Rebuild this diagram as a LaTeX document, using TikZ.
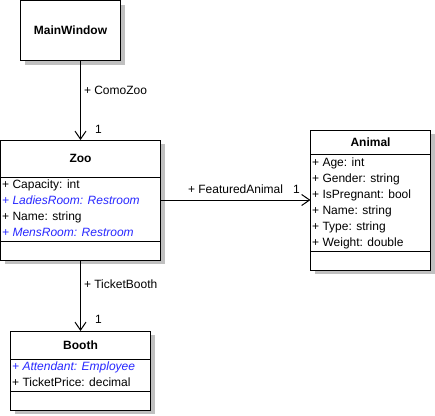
\documentclass[tikz,border=0pt]{standalone}
\usepackage{fontspec}
\setmainfont{Liberation Sans}
\usepackage{xcolor}
\usepackage{tikz}
\usetikzlibrary{arrows.meta,shadows,positioning}

\definecolor{umlblue}{RGB}{40,40,255}
\definecolor{shadowgray}{RGB}{192,192,192}
\newcommand{\umlfont}{\fontsize{12}{14}\selectfont}

\begin{document}
\begin{tikzpicture}[
    x=1pt, y=-1pt,
    classbox/.style={draw, line width=1pt, fill=white, anchor=north west, inner sep=0pt, outer sep=0pt,
        drop shadow={shadow xshift=4pt, shadow yshift=-4pt, fill=shadowgray, opacity=1}},
    title/.style={anchor=base, inner sep=0pt, font=\umlfont\bfseries},
    attr/.style={anchor=base west, inner sep=0pt, font=\umlfont},
    virt/.style={attr, text=umlblue, font=\umlfont\itshape},
    sep/.style={line width=1pt},
    assoc/.style={-{Straight Barb[length=8pt,width=11pt]}, line width=1pt},
    lbl/.style={anchor=base west, inner sep=0pt, font=\umlfont}
]
    \useasboundingbox (0,0) rectangle (435,415);

    % Classes
    \node[classbox, minimum width=100pt, minimum height=60pt] (mainwin) at (20.5,0.5) {};
    \node[title] (mainwintitle) at (70.5,34.7) {MainWindow};

    \node[classbox, minimum width=160pt, minimum height=120pt] (zoo) at (0.5,140) {};
    \node[title] (zootitle) at (80.5,162.7) {Zoo};
    \draw[sep] (0.5,177) -- (160.5,177);
    \node[attr] (zoo1) at (2,188.5) {+ Capacity: int};
    \node[virt] (zoo2) at (2,204.4) {+ LadiesRoom: Restroom};
    \node[attr] (zoo3) at (2,220.3) {+ Name: string};
    \node[virt] (zoo4) at (2,236.2) {+ MensRoom: Restroom};
    \draw[sep] (0.5,241) -- (160.5,241);

    \node[classbox, minimum width=120pt, minimum height=140pt] (animal) at (310.5,130) {};
    \node[title] (animaltitle) at (370.5,146.7) {Animal};
    \draw[sep] (310.5,154) -- (430.5,154);
    \node[attr] (animal1) at (312,166.7) {+ Age: int};
    \node[attr] (animal2) at (312,182.6) {+ Gender: string};
    \node[attr] (animal3) at (312,198.5) {+ IsPregnant: bool};
    \node[attr] (animal4) at (312,214.4) {+ Name: string};
    \node[attr] (animal5) at (312,230.3) {+ Type: string};
    \node[attr] (animal6) at (312,246.2) {+ Weight: double};
    \draw[sep] (310.5,251) -- (430.5,251);

    \node[classbox, minimum width=140pt, minimum height=79pt] (booth) at (10.5,331) {};
    \node[title] (boothtitle) at (80.5,349) {Booth};
    \draw[sep] (10.5,359) -- (150.5,359);
    \node[virt] (booth1) at (12,370.7) {+ Attendant: Employee};
    \node[attr] (booth2) at (12,386.7) {+ TicketPrice: decimal};
    \draw[sep] (10.5,391) -- (150.5,391);

    % Associations
    \draw[assoc] (zoo.north |- mainwin.south)
        -- node[lbl, pos=0.425, xshift=3pt] {+ ComoZoo}
           node[lbl, pos=0.917, xshift=14pt] {1} (zoo.north);
    \draw[assoc] (zoo.east) -- node[lbl, pos=0.18, yshift=6.7pt] {+ FeaturedAnimal}
           node[lbl, pos=0.88, yshift=6.7pt] {1} (animal.west);
    \draw[assoc] (zoo.south) -- node[lbl, pos=0.4, xshift=3pt] {+ TicketBooth}
           node[lbl, pos=0.89, xshift=14pt] {1} (booth.north);
\end{tikzpicture}
\end{document}
